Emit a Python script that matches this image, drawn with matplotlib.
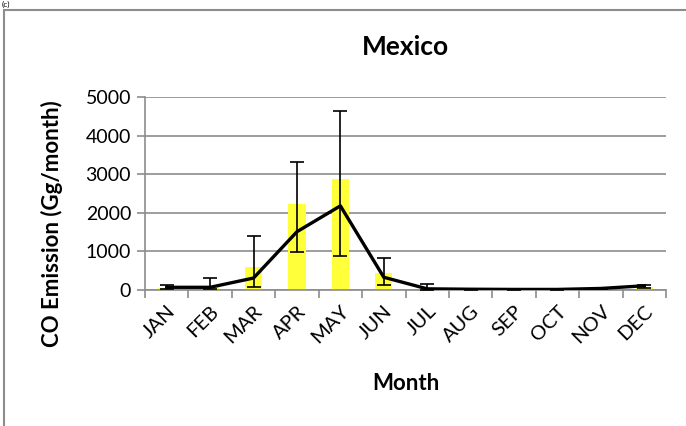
import matplotlib
matplotlib.use("Agg")
import matplotlib.pyplot as plt
from matplotlib.lines import Line2D
import numpy as np

months = ["JAN", "FEB", "MAR", "APR", "MAY", "JUN", "JUL", "AUG", "SEP", "OCT", "NOV", "DEC"]
bar_values = [60, 100, 600, 2230, 2880, 450, 40, 20, 15, 15, 30, 80]
line_values = [70, 70, 310, 1510, 2180, 330, 30, 20, 15, 15, 40, 110]
err_lower = [20, 20, 70, 980, 870, 140, 10, 10, 10, 10, 15, 50]
err_upper = [140, 300, 1400, 3310, 4640, 830, 150, 30, 25, 25, 50, 120]

plt.rcParams['font.family'] = ['Lato', 'DejaVu Sans']

fig = plt.figure(figsize=(6.86, 4.26), dpi=100)
# outer frame (left and top edges only visible)
fx, fy = 4/686, 1 - 10/426
fig.lines.append(Line2D([fx, fx], [0, fy], transform=fig.transFigure,
                        color='#8c8c8c', linewidth=1.5))
fig.lines.append(Line2D([fx, 1], [fy, fy], transform=fig.transFigure,
                        color='#8c8c8c', linewidth=1.5))
fig.text(2/686, 1.0 - 1/426, "(c)", fontsize=6, va='top', ha='left')

ax = fig.add_axes([145/686, 1 - 290/426, (666 - 145)/686, (290 - 97)/426])
x = np.arange(len(months))
ax.bar(x, bar_values, width=0.4, color='#FFFF3A', zorder=2)
yerr = [np.array(bar_values) - np.array(err_lower), np.array(err_upper) - np.array(bar_values)]
ax.errorbar(x, bar_values, yerr=yerr, fmt='none', ecolor='black', elinewidth=1.2,
            capsize=5, capthick=1.2, zorder=3)
ax.plot(x, line_values, color='black', linewidth=2.4, zorder=4)

ax.set_xlim(-0.5, 11.5)
ax.set_ylim(0, 5000)
ax.set_yticks(range(0, 5001, 1000))
ax.yaxis.grid(True, color='#8c8c8c', linewidth=1.2, zorder=0)
ax.set_axisbelow(True)
for s in ['top', 'right']:
    ax.spines[s].set_visible(False)
for s in ['left', 'bottom']:
    ax.spines[s].set_color('#8c8c8c')
    ax.spines[s].set_linewidth(1.2)

ax.set_xticks(np.arange(-0.5, 12, 1), minor=False)
ax.set_xticklabels([])
ax.set_xticks(x, minor=True)
ax.set_xticklabels(months, minor=True, rotation=45, ha='right', va='top',
                   rotation_mode='anchor', fontsize=14.5)
ax.tick_params(axis='x', which='major', length=6, color='#8c8c8c', width=1.2)
ax.tick_params(axis='x', which='minor', length=0, pad=9)
ax.tick_params(axis='y', length=6, color='#8c8c8c', width=1.2, labelsize=14, pad=4)

ax.set_title("Mexico", fontsize=19, fontweight='bold', pad=30)
ax.set_ylabel("CO Emission (Gg/month)", fontsize=16, fontweight='bold')
ax.yaxis.set_label_coords(-0.157, 0.342)
ax.set_xlabel("Month", fontsize=16, fontweight='bold', labelpad=19)

fig.savefig("out.png", dpi=100)
